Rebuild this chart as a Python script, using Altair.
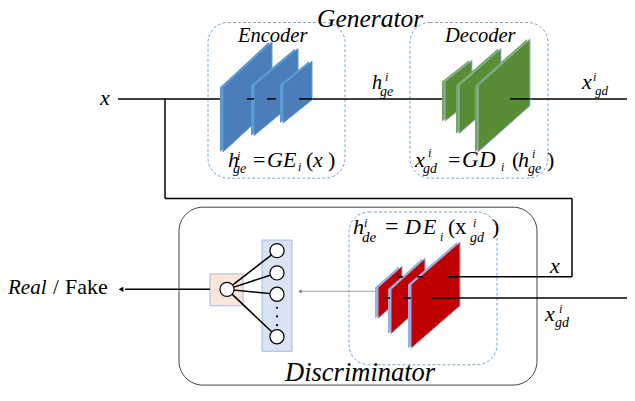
import altair as alt
import pandas as pd

FONT = "Liberation Serif"

# visible window of the reference (page margin 8px on every side)
X_DOM = [8, 627]
Y_DOM = [3, 396]
PW, PH = 619, 380

# ---------------- boxes ----------------
dash_box_x1 = [208, 410, 349]
dash_box_x2 = [345, 548, 497]
dash_box_y1 = [18, 18, 214]
dash_box_y2 = [179, 179, 372]
outer_box = {"x": [179], "x2": [537], "y": [209], "y2": [393]}

# neural-net boxes
nn_box_x1 = [262, 210]
nn_box_x2 = [292, 243]
nn_box_y1 = [243, 278]
nn_box_y2 = [358, 311]
nn_box_fill = ["#dae3f3", "#fbe5d6"]

# ---------------- planes (parallelograms) ----------------
enc_lx = [223, 254, 283]
enc_rx = [272, 298, 312]
enc_lt = [85, 83, 82]
enc_lb = [152, 135, 122]
enc_rt = [38, 45, 58]

dec_lx = [445, 459, 478]
dec_rx = [472, 501, 530]
dec_lt = [79, 83, 83]
dec_lb = [120, 133, 152]
dec_rt = [57, 45, 35]

dis_lx = [378, 391, 411]
dis_rx = [402, 425, 460]
dis_lt = [292, 294, 289]
dis_lb = [324, 340, 355]
dis_rt = [270, 262, 245]

# ---------------- lines ----------------
under_x1 = [118, 165, 165, 572]
under_y1 = [97, 97, 200, 200]
under_x2 = [635, 165, 572, 572]
under_y2 = [97, 200, 200, 281]

over_x1 = [247, 267, 299, 510, 448, 432, 398, 417, 385, 404, 125]
over_y1 = [97, 97, 97, 97, 281, 303, 281, 281, 303, 303, 294]
over_x2 = [254, 276, 312, 530, 572, 635, 403, 423, 390, 411, 210]
over_y2 = [97, 97, 97, 97, 281, 303, 281, 281, 303, 303, 294]

# neural net
nn_src = (227, 294)
nn_node_x = [277, 277, 277, 277]
nn_node_y = [254, 277, 299, 343]
nn_dot_y = [313, 322, 331]

gray_arrow = {"x": [375], "y": [296], "x2": [302], "y2": [296]}
arrow_heads_x = [121]
arrow_heads_y = [294]

# ---------------- texts ----------------
it_text = ["Generator", "Encoder", "Decoder", "Discriminator", "x",
           "h", "i", "ge",
           "x", "i", "gd",
           "h", "i", "ge", "G", "E", "i", "x",
           "x", "i", "gd", "G", "D", "i", "h", "i", "ge",
           "h", "i", "de", "D", "E", "i", "i", "gd",
           "x", "x", "i", "gd",
           "Real"]
it_x = [317, 238, 445, 285, 100,
        372, 385, 380,
        582, 593, 595,
        228, 237, 233, 267, 283, 298, 313,
        415, 428, 423, 462, 479, 501, 518, 532, 528,
        353, 364, 362, 405, 423, 440, 473, 470,
        550, 545, 559, 555,
        8]
it_y = [23, 38, 38, 389, 103,
        87, 79, 94,
        87, 78, 93,
        167, 160, 174, 167, 167, 172, 167,
        167, 157, 174, 167, 167, 172, 167, 158, 174,
        237, 229, 245, 237, 237, 244, 230, 245,
        277, 327, 318, 333,
        299]
it_s = [25.5, 20.5, 20.5, 26.5, 22,
        20, 12, 14,
        22, 12, 13,
        22, 12, 14, 22, 22, 12, 22,
        22, 12, 14, 23, 23, 12, 22, 12, 14,
        22, 12, 15, 22, 22, 12, 12, 14,
        22, 22, 12, 14,
        21]

up_text = ["=", "(", ")", "=", "(", ")", "=", "(", "x", ")", "/", "Fake"]
up_x = [253, 306, 328, 448, 512, 547, 385, 448, 455, 492, 53, 65]
up_y = [167, 167, 167, 167, 167, 167, 237, 237, 237, 237, 299, 299]
up_s = [22, 22, 22, 22, 22, 22, 24, 22, 23, 22, 21, 22]

# ======================================================
def X(f="x"):
    return alt.X(f"{f}:Q", scale=alt.Scale(domain=X_DOM, nice=False, zero=False), axis=None)


def Y(f="y"):
    return alt.Y(f"{f}:Q", scale=alt.Scale(domain=Y_DOM, nice=False, zero=False, reverse=True), axis=None)


layers = []

layers.append(alt.Chart(pd.DataFrame(outer_box)).mark_rect(
    filled=False, stroke="#404040", strokeWidth=1, cornerRadius=24
).encode(x=X(), x2="x2:Q", y=Y(), y2="y2:Q"))

layers.append(alt.Chart(pd.DataFrame({"x": dash_box_x1, "x2": dash_box_x2, "y": dash_box_y1, "y2": dash_box_y2})).mark_rect(
    filled=False, stroke="#7aa6d8", strokeWidth=1, strokeDash=[3, 2], cornerRadius=20
).encode(x=X(), x2="x2:Q", y=Y(), y2="y2:Q"))

layers.append(alt.Chart(pd.DataFrame({"x": under_x1, "y": under_y1, "x2": under_x2, "y2": under_y2})).mark_rule(
    color="black", strokeWidth=1.5
).encode(x=X(), x2="x2:Q", y=Y(), y2="y2:Q"))

layers.append(alt.Chart(pd.DataFrame({"x": nn_box_x1, "x2": nn_box_x2, "y": nn_box_y1, "y2": nn_box_y2, "f": nn_box_fill})).mark_rect(
    stroke="#9dbde6", strokeWidth=1
).encode(x=X(), x2="x2:Q", y=Y(), y2="y2:Q", fill=alt.Fill("f:N", scale=None)))


def plane_layers(lx, rx, lt, lb, rt, fill, stroke, back=None):
    out = []
    for i in range(len(lx)):
        h = lb[i] - lt[i]
        df = pd.DataFrame({"x": [lx[i], rx[i]], "y": [lt[i], rt[i]], "y2": [lb[i], rt[i] + h]})
        if back:
            dfb = df.copy()
            dfb["x"] = dfb["x"] - 3
            out.append(alt.Chart(dfb).mark_area(color=back, orient="vertical", interpolate="linear", opacity=1).encode(
                x=X(), y=Y(), y2="y2:Q"))
        out.append(alt.Chart(df).mark_area(fill=fill, stroke=stroke, strokeWidth=1, orient="vertical",
                                           interpolate="linear", opacity=1).encode(x=X(), y=Y(), y2="y2:Q"))
    return out


layers += plane_layers(enc_lx, enc_rx, enc_lt, enc_lb, enc_rt, "#4a7dba", "#5b9bd5", back="#5b9bd5")
layers += plane_layers(dec_lx, dec_rx, dec_lt, dec_lb, dec_rt, "#5a8c36", "#8fb6de", back="#79a85a")
layers += plane_layers(dis_lx, dis_rx, dis_lt, dis_lb, dis_rt, "#c00000", "#9aaede", back="#9aaede")

layers.append(alt.Chart(pd.DataFrame({"x": over_x1, "y": over_y1, "x2": over_x2, "y2": over_y2})).mark_rule(
    color="black", strokeWidth=1.5
).encode(x=X(), x2="x2:Q", y=Y(), y2="y2:Q"))

layers.append(alt.Chart(pd.DataFrame({"x": [nn_src[0]] * 4, "y": [nn_src[1]] * 4, "x2": nn_node_x, "y2": nn_node_y})).mark_rule(
    color="black", strokeWidth=1.5
).encode(x=X(), x2="x2:Q", y=Y(), y2="y2:Q"))

layers.append(alt.Chart(pd.DataFrame(gray_arrow)).mark_rule(color="#8a8a8a", strokeWidth=0.8).encode(
    x=X(), x2="x2:Q", y=Y(), y2="y2:Q"))
layers.append(alt.Chart(pd.DataFrame({"x": [300], "y": [296]})).mark_point(
    shape="triangle-left", filled=True, color="#6a6a6a", size=14, opacity=1).encode(x=X(), y=Y()))

layers.append(alt.Chart(pd.DataFrame({"x": arrow_heads_x, "y": arrow_heads_y})).mark_point(
    shape="triangle-left", filled=True, color="black", size=30, opacity=1).encode(x=X(), y=Y()))

layers.append(alt.Chart(pd.DataFrame({"x": [nn_src[0]] + nn_node_x, "y": [nn_src[1]] + nn_node_y})).mark_point(
    shape="circle", filled=True, fill="white", stroke="black", strokeWidth=1.2, size=200, opacity=1
).encode(x=X(), y=Y()))
layers.append(alt.Chart(pd.DataFrame({"x": [277] * 3, "y": nn_dot_y})).mark_point(
    shape="circle", filled=True, color="black", size=5, opacity=1).encode(x=X(), y=Y()))

layers.append(alt.Chart(pd.DataFrame({"t": it_text, "x": it_x, "y": it_y, "s": it_s})).mark_text(
    font=FONT, fontStyle="italic", align="left", baseline="alphabetic", color="black"
).encode(x=X(), y=Y(), text="t:N", size=alt.Size("s:Q", scale=None)))
layers.append(alt.Chart(pd.DataFrame({"t": up_text, "x": up_x, "y": up_y, "s": up_s})).mark_text(
    font=FONT, align="left", baseline="alphabetic", color="black"
).encode(x=X(), y=Y(), text="t:N", size=alt.Size("s:Q", scale=None)))

chart = alt.layer(*layers).properties(
    width=PW, height=PH,
    padding=0,
    autosize=alt.AutoSizeParams(type="none"),
    background="white",
).configure(font=FONT).configure_text(font=FONT).configure_view(stroke=None)

chart.save("out.html", embed_options={"renderer": "svg", "actions": False})
